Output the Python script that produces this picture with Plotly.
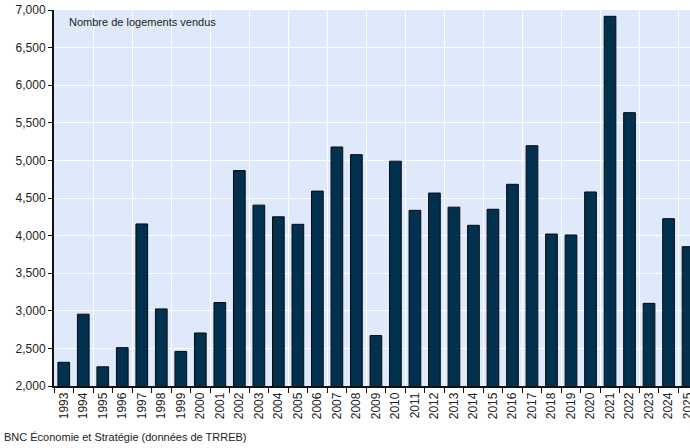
import plotly.graph_objects as go

years = [str(y) for y in range(1993, 2026)]
sales = [2315, 2955, 2255, 2510, 4155, 3025, 2460, 2705, 3110, 4865,
         4405, 4250, 4150, 4592, 5178, 5076, 2670, 4990, 4336, 4566,
         4378, 4137, 4350, 4682, 5195, 4021, 4008, 4580, 6916, 5635,
         3099, 4225, 3853]
y_ticks = list(range(2000, 7001, 500))

idx = list(range(len(years)))
FONT = "Arial, 'Liberation Sans', sans-serif"

fig = go.Figure()
fig.add_trace(go.Bar(
    x=idx, y=sales, width=0.6,
    marker=dict(color="#02304F", line=dict(color="#0a0a0a", width=1)),
    hoverinfo="skip", showlegend=False,
))
fig.add_trace(go.Scatter(x=[], y=[], xaxis="x2", showlegend=False))

x_range = [-0.5, 32.1]
fig.update_layout(
    width=690, height=448,
    margin=dict(l=54, r=0, t=10, b=62, autoexpand=False),
    paper_bgcolor="white",
    plot_bgcolor="#DEEAFB",
    font=dict(family=FONT, color="#222", size=12),
    bargap=0.4,
    xaxis=dict(
        type="linear", range=x_range, automargin=False,
        tickmode="array", tickvals=idx, ticktext=years,
        tickangle=-90, ticks="", showgrid=False, zeroline=False,
        ticklabeloverflow="allow",
        showline=True, linecolor="#111", linewidth=1.5,
        tickfont=dict(size=12, color="#222"),
        minor=dict(tickmode="array", tickvals=[i + 0.5 for i in idx] + [-0.5],
                   ticks="outside", ticklen=5, tickwidth=1, tickcolor="#111",
                   showgrid=False),
    ),
    xaxis2=dict(
        overlaying="x", range=x_range, type="linear", automargin=False,
        tickmode="array", tickvals=[i + 0.5 for i in idx if i % 2 == 1],
        showticklabels=False, ticks="", showgrid=True,
        gridcolor="white", gridwidth=1.3, zeroline=False, showline=False,
    ),
    yaxis=dict(
        range=[2000, 7000], tickmode="array", tickvals=y_ticks, automargin=False,
        tickformat=",", ticks="outside", ticklen=4, tickwidth=1, tickcolor="#111",
        showgrid=True, gridcolor="white", gridwidth=1.3, zeroline=False,
        ticklabeloverflow="allow",
        showline=True, linecolor="#111", linewidth=2,
        tickfont=dict(size=12, color="#222"),
    ),
    annotations=[
        dict(text="Nombre de logements vendus", xref="paper", yref="paper",
             x=0.021, y=0.968, xanchor="left", yanchor="middle", showarrow=False,
             font=dict(size=11, color="#222")),
        dict(text="BNC Économie et Stratégie (données de TRREB)", xref="paper",
             yref="paper", x=-0.082, y=-0.136, xanchor="left", yanchor="middle",
             showarrow=False, font=dict(size=11, color="#222")),
    ],
)

fig.write_html("out.html", config={"displayModeBar": False},
               post_script="document.body.style.margin='0';")
